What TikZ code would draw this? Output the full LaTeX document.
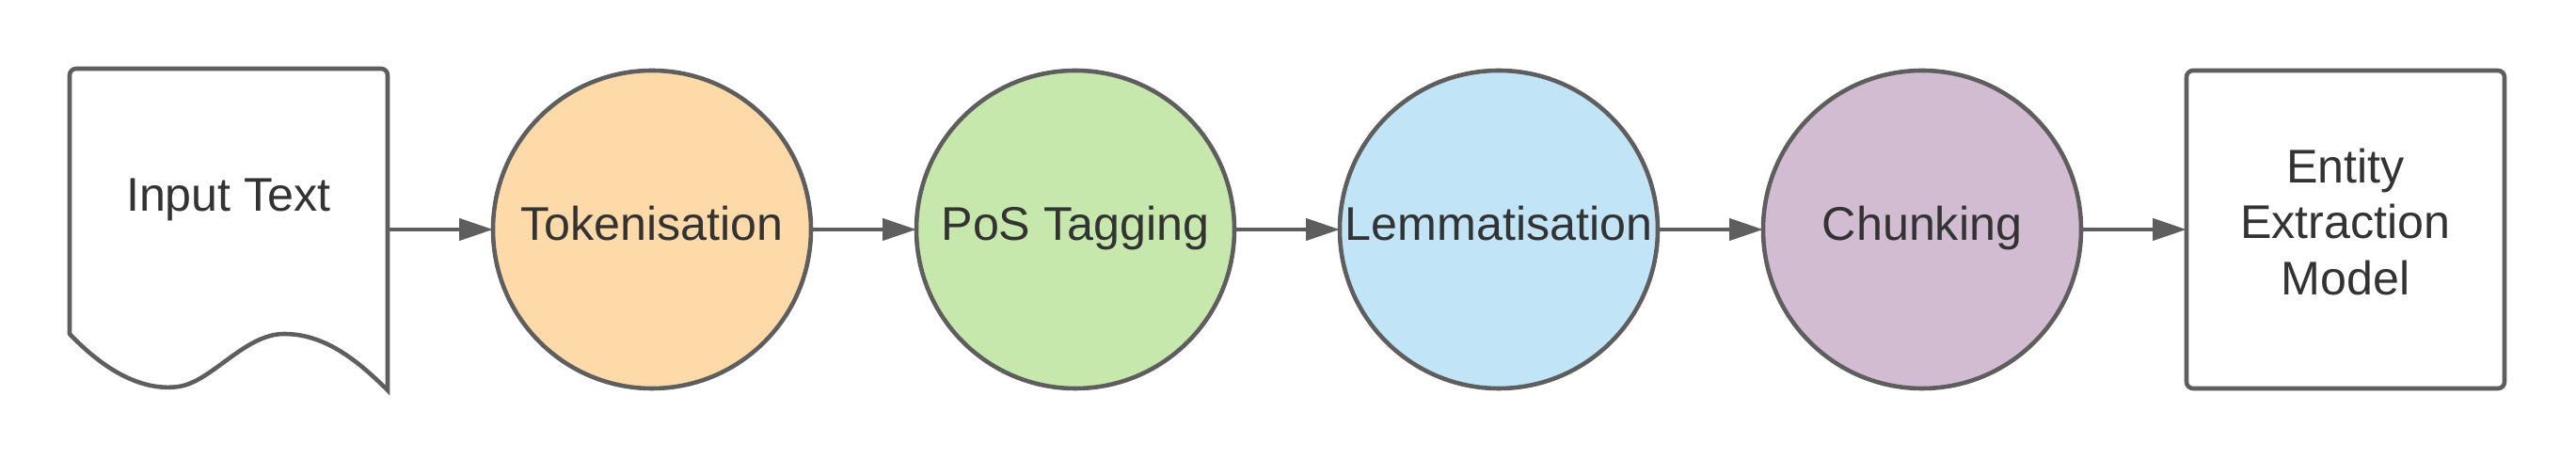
\documentclass[tikz,border=0pt]{standalone}
\usepackage{fontspec}
\setmainfont{Liberation Sans}
\usepackage{xcolor}
\usetikzlibrary{arrows.meta, positioning}

\definecolor{edgegray}{HTML}{5E5E5E}
\definecolor{textgray}{HTML}{333333}
\definecolor{tokfill}{HTML}{FFDAA9}
\definecolor{posfill}{HTML}{C7E8AC}
\definecolor{lemfill}{HTML}{C1E4F7}
\definecolor{chunkfill}{HTML}{D1BCD2}

\begin{document}
\begin{tikzpicture}[
  node distance=1.12cm,
  every node/.style={text=textgray, font=\fontsize{14.3}{16.9}\selectfont, outer sep=0pt},
  stage/.style={circle, draw=edgegray, line width=1.3pt,
                minimum size=3.38cm, inner sep=0pt, text height=0.5cm, text depth=0.27cm},
  docbox/.style={rectangle, minimum width=3.38cm, minimum height=3.42cm, inner sep=0pt},
  outbox/.style={rectangle, rounded corners=0.07cm, draw=edgegray, line width=1.3pt,
                 minimum width=3.38cm, minimum height=3.38cm, align=center, text depth=0.17cm},
  arrow/.style={-{Triangle[length=0.36cm, width=0.23cm]}, draw=edgegray, line width=1.3pt}
]
  \useasboundingbox (0,0) rectangle (27.38,4.88);

  % input document
  \node (input) [docbox] at (2.43,2.44) {};
  \draw[edgegray, line width=1.3pt]
    (4.12,0.73) .. controls (3.80,1.05) and (3.45,1.33) .. (3.02,1.33)
    .. controls (2.60,1.33) and (2.25,0.82) .. (1.90,0.77)
    .. controls (1.55,0.72) and (1.15,0.90) .. (0.74,1.33)
    [rounded corners=0.07cm] -- (0.74,4.15) -- (4.12,4.15)
    [sharp corners] -- cycle;
  \node (intext) [anchor=base] at ([yshift=1.9mm]input.center) {Input Text};

  % pipeline
  \node (tok)   [stage, fill=tokfill, right=of input]  {Tokenisation};
  \node (pos)   [stage, fill=posfill, right=of tok]    {PoS Tagging};
  \node (lem)   [stage, fill=lemfill, right=of pos]    {Lemmatisation};
  \node (chunk) [stage, fill=chunkfill, right=of lem]  {Chunking};
  \node (model) [outbox, right=of chunk] {Entity\\Extraction\\Model};

  \foreach \a/\b in {input/tok, tok/pos, pos/lem, lem/chunk, chunk/model}
    \draw[arrow] (\a) -- (\b);
\end{tikzpicture}
\end{document}
